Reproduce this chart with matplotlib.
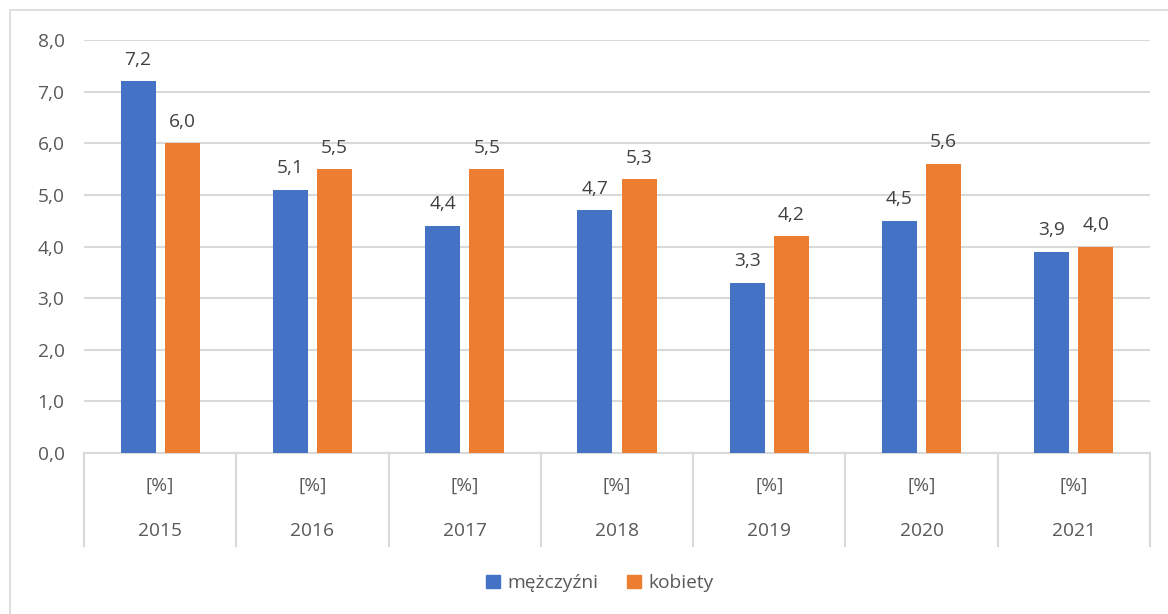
import numpy as np
import matplotlib
matplotlib.use("Agg")
import matplotlib.pyplot as plt
from matplotlib.patches import Patch, Rectangle

# dane z wykresu
years = ["2015", "2016", "2017", "2018", "2019", "2020", "2021"]
unit_labels = ["[%]"] * 7
men = [7.2, 5.1, 4.4, 4.7, 3.3, 4.5, 3.9]
women = [6.0, 5.5, 5.5, 5.3, 4.2, 5.6, 4.0]
series_names = ["mężczyźni", "kobiety"]

BLUE = "#4472C4"
ORANGE = "#ED7D31"
GRID = "#D9D9D9"
TEXT = "#595959"

plt.rcParams["font.family"] = ["Open Sans", "DejaVu Sans"]
FS = 13.8


def fmt(v):
    return f"{v:.1f}".replace(".", ",")


def main():
    W, H = 1168, 614
    fig = plt.figure(figsize=(W / 100, H / 100), dpi=100)

    # ramka wykresu
    fig.patches.append(Rectangle((10 / W, -0.1), 1.2, 1.1 - 10 / H,
                                 transform=fig.transFigure, fill=False,
                                 edgecolor=GRID, linewidth=1.2))

    ax = fig.add_axes([84 / W, 1 - 453 / H, (1150 - 84) / W, (453 - 40) / H])

    x = np.arange(len(years))
    bw = 0.23
    off = 0.145
    b1 = ax.bar(x - off, men, bw, color=BLUE, zorder=3)
    b2 = ax.bar(x + off, women, bw, color=ORANGE, zorder=3)

    for bars, vals in ((b1, men), (b2, women)):
        for rect, v in zip(bars, vals):
            ax.annotate(fmt(v), (rect.get_x() + rect.get_width() / 2, v),
                        xytext=(0, 9), textcoords="offset points",
                        ha="center", va="bottom", fontsize=FS, color="#404040")

    ax.set_xlim(-0.5, len(years) - 0.5)
    ax.set_ylim(0, 8)
    ax.set_yticks(np.arange(0, 9, 1))
    ax.set_yticklabels([fmt(v) for v in np.arange(0, 9, 1)])
    ax.tick_params(axis="y", length=0, labelsize=FS, labelcolor=TEXT, pad=14)
    ax.set_xticks([])
    ax.yaxis.grid(True, color=GRID, linewidth=1.5, zorder=0)
    for s in ("top", "right", "left"):
        ax.spines[s].set_visible(False)
    ax.spines["bottom"].set_color(GRID)
    ax.spines["bottom"].set_linewidth(1.5)

    # osie kategorii wielopoziomowe
    tr = ax.get_xaxis_transform()
    for b in np.arange(-0.5, len(years), 1.0):
        ax.plot([b, b], [0, -0.225], transform=tr, color=GRID,
                linewidth=1.5, clip_on=False)
    for i in range(len(years)):
        ax.text(i, -0.08, unit_labels[i], transform=tr, ha="center",
                va="center", fontsize=FS, color=TEXT)
        ax.text(i, -0.19, years[i], transform=tr, ha="center",
                va="center", fontsize=FS, color=TEXT)

    handles = [Patch(color=BLUE), Patch(color=ORANGE)]
    fig.legend(handles, series_names, loc="center",
               bbox_to_anchor=(600 / W, 1 - 583 / H), ncol=2, frameon=False,
               fontsize=FS, labelcolor=TEXT, handlelength=0.7,
               handleheight=0.7, handletextpad=0.4, columnspacing=1.5)

    fig.savefig("out.png", dpi=100)
    plt.close(fig)


if __name__ == "__main__":
    main()
